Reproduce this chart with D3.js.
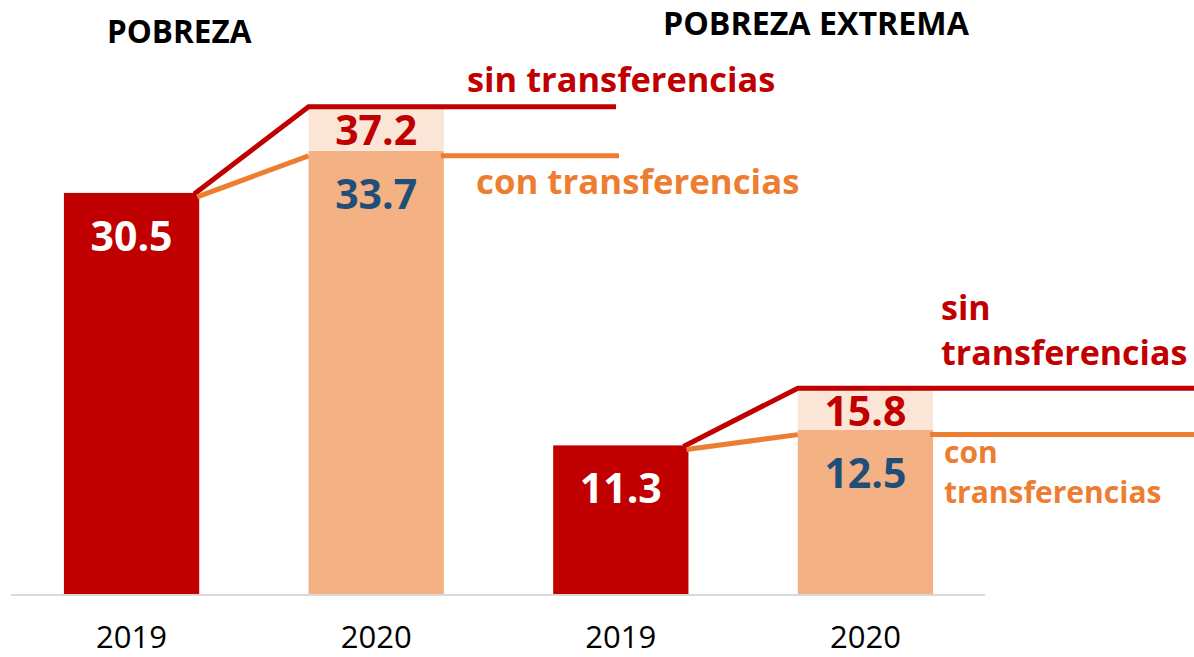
<!DOCTYPE html>
<html>
<head>
<meta charset="utf-8">
<script src="https://cdn.jsdelivr.net/npm/d3@7"></script>
<style>
  html, body { margin: 0; padding: 0; background: #ffffff; }
  svg { display: block; }
  text { font-family: "Open Sans", "DejaVu Sans", sans-serif; }
</style>
</head>
<body>
<svg id="chart" width="1194" height="657"></svg>
<script>
// ---- data ----
const years = ["2019", "2020", "2019", "2020"];
const groupTitles = ["POBREZA", "POBREZA EXTREMA"];
const withTransfers = [30.5, 33.7, 11.3, 12.5];      // 2019 observed / 2020 con transferencias
const withoutTransfers = [null, 37.2, null, 15.8];   // 2020 sin transferencias
const annotSin = ["sin transferencias", ["sin", "transferencias"]];
const annotCon = ["con transferencias", ["con", "transferencias"]];

// ---- colours ----
const RED = "#C00000", ORANGE = "#ED7D31", PEACH = "#F4B183", PALE = "#FBE5D6", BLUE = "#1F4E79";

const svg = d3.select("#chart");
const baseY = 594;

const x = d3.scaleBand().domain(d3.range(years.length)).range([15, 982])
  .paddingInner(0.447).paddingOuter(0.2);
const y = d3.scaleLinear().domain([0, 45.17]).range([baseY, 0]);
const bw = x.bandwidth();

// axis
const axis = d3.axisBottom(x).tickSize(0).tickFormat(i => years[i]);
const gAxis = svg.append("g").attr("transform", `translate(0,${baseY + 1})`).call(axis);
gAxis.select(".domain").attr("stroke", "#d9d9d9").attr("stroke-width", 2)
  .attr("d", `M${11},0H${985}`);
gAxis.selectAll(".tick text")
  .attr("y", 0).attr("dy", 0)
  .attr("transform", "translate(0,53)")
  .attr("fill", "#000")
  .style("font-family", "'Open Sans', sans-serif")
  .style("font-size", "31px");

// bars
const idx = d3.range(years.length);
svg.append("g").selectAll("rect.base").data(idx).join("rect")
  .attr("class", "base")
  .attr("x", i => x(i)).attr("width", bw)
  .attr("y", i => y(withTransfers[i]))
  .attr("height", i => baseY - y(withTransfers[i]))
  .attr("fill", i => withoutTransfers[i] == null ? RED : PEACH);

svg.append("g").selectAll("rect.top").data(idx.filter(i => withoutTransfers[i] != null)).join("rect")
  .attr("class", "top")
  .attr("x", i => x(i)).attr("width", bw)
  .attr("y", i => y(withoutTransfers[i]))
  .attr("height", i => y(withTransfers[i]) - y(withoutTransfers[i]))
  .attr("fill", PALE);

// connector lines
const lineEnds = [616, 1194];
[[0, 1], [2, 3]].forEach(([a, b], g) => {
  const xr = x(a) + bw;
  const ya = y(withTransfers[a]);
  // red: sin transferencias
  const yr = y(withoutTransfers[b]) + 2;
  svg.append("path")
    .attr("d", d3.line()([[xr - 5, ya + 1], [x(b), yr], [lineEnds[g], yr]]))
    .attr("fill", "none").attr("stroke", RED).attr("stroke-width", 5)
    .attr("stroke-linejoin", "miter");
  // orange: con transferencias
  const yo = y(withTransfers[b]) + 5;
  svg.append("path")
    .attr("d", d3.line()([[xr - 2, ya + 4], [x(b), yo]]))
    .attr("fill", "none").attr("stroke", ORANGE).attr("stroke-width", 5);
  svg.append("path")
    .attr("d", d3.line()([[x(b) + bw - 3, yo], [lineEnds[g] + 3, yo]]))
    .attr("fill", "none").attr("stroke", ORANGE).attr("stroke-width", 5);
});

// value labels
const lbl = svg.append("g").attr("font-weight", "bold").attr("font-size", 41).attr("text-anchor", "middle");
idx.forEach(i => {
  const isBase = withoutTransfers[i] == null;
  lbl.append("text")
    .attr("x", x(i) + bw / 2)
    .attr("y", y(withTransfers[i]) + 58)
    .attr("fill", isBase ? "#ffffff" : BLUE)
    .text(withTransfers[i].toFixed(1));
  if (!isBase) {
    lbl.append("text")
      .attr("x", x(i) + bw / 2)
      .attr("y", y(withoutTransfers[i]) + 40)
      .attr("fill", RED)
      .text(withoutTransfers[i].toFixed(1));
  }
});

// titles
svg.append("text").attr("x", 107).attr("y", 43).attr("font-weight", "bold")
  .attr("font-size", 31.5).attr("fill", "#000").text(groupTitles[0]);
svg.append("text").attr("x", 663).attr("y", 35).attr("font-weight", "bold")
  .attr("font-size", 32.2).attr("fill", "#000").text(groupTitles[1]);

// annotations group 1
svg.append("text").attr("x", 467).attr("y", 92).attr("font-weight", "bold")
  .attr("font-size", 34.4).attr("fill", RED).text(annotSin[0]);
svg.append("text").attr("x", 476).attr("y", 194).attr("font-weight", "bold")
  .attr("font-size", 34.8).attr("fill", ORANGE).text(annotCon[0]);

// annotations group 2
const t2 = svg.append("text").attr("font-weight", "bold").attr("font-size", 34).attr("fill", RED);
annotSin[1].forEach((s, k) => t2.append("tspan").attr("x", 941).attr("y", 320 + k * 45).text(s));
const t3 = svg.append("text").attr("font-weight", "bold").attr("font-size", 30).attr("fill", ORANGE);
annotCon[1].forEach((s, k) => t3.append("tspan").attr("x", 944).attr("y", 463 + k * 40).text(s));
</script>
</body>
</html>
